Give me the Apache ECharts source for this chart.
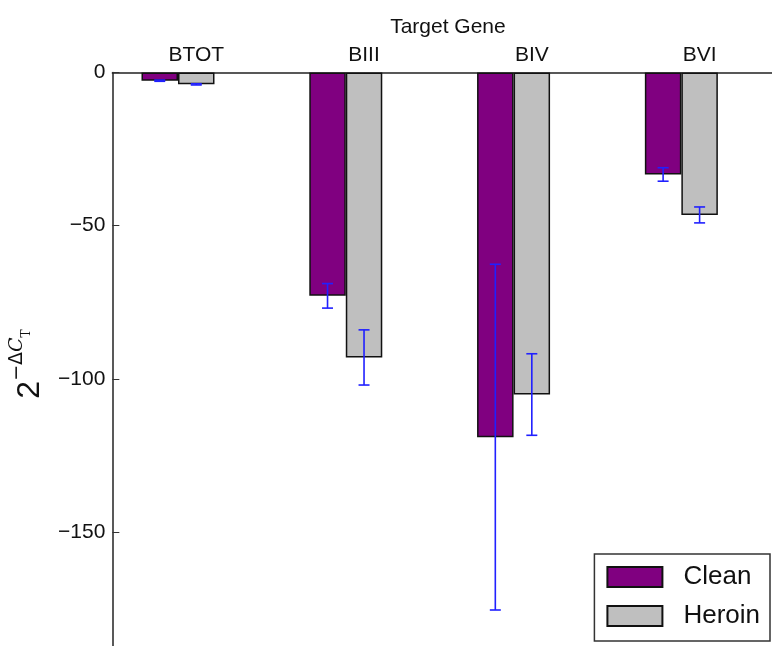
<!DOCTYPE html>
<html>
<head>
<meta charset="utf-8">
<script src="https://cdn.jsdelivr.net/npm/echarts@6/dist/echarts.min.js"></script>
<style>
html,body{margin:0;padding:0;background:#fff;}
#chart{width:772px;height:646px;}
</style>
</head>
<body>
<div id="chart"></div>
<script>
// ---- data ----
var categories = ['BTOT', 'BIII', 'BIV', 'BVI'];
var cleanValues = [-2.7, -72.9, -119.0, -33.3];
var heroinValues = [-3.9, -93.0, -105.1, -46.5];
var cleanErrors = [0.2, 4.0, 56.4, 2.2];
var heroinErrors = [0.2, 9.0, 13.3, 2.6];
var yTicks = [0, -50, -100, -150, -200];
var seriesNames = ['Clean', 'Heroin'];

// ---- style ----
var FONT = "'Liberation Sans', Arial, sans-serif";
var BAR_W = 36.5;
var CLEAN_COLOR = '#800080';
var HEROIN_COLOR = '#bfbfbf';
var ERR_COLOR = '#2020ff';
var AXIS_COLOR = '#222';

function errData(vals, errs) {
  return vals.map(function (v, i) { return [i, v - errs[i], v + errs[i]]; });
}

function makeErrRender(offset) {
  return function (params, api) {
    var idx = api.value(0);
    var lo = api.coord([idx, api.value(1)]);
    var hi = api.coord([idx, api.value(2)]);
    var x = lo[0] + offset;
    var cap = 5.5;
    var st = { stroke: ERR_COLOR, lineWidth: 1.6 };
    return {
      type: 'group',
      children: [
        { type: 'line', shape: { x1: x, y1: lo[1], x2: x, y2: hi[1] }, style: st },
        { type: 'line', shape: { x1: x - cap, y1: lo[1], x2: x + cap, y2: lo[1] }, style: st },
        { type: 'line', shape: { x1: x - cap, y1: hi[1], x2: x + cap, y2: hi[1] }, style: st }
      ]
    };
  };
}

var chart = echarts.init(document.getElementById('chart'), null, { renderer: 'canvas' });
var option = {
  animation: false,
  backgroundColor: '#fff',
  textStyle: { fontFamily: FONT },
  grid: { left: 112.35, right: -11.5, top: 72.4, bottom: -39.4, containLabel: false, outerBoundsMode: 'none' },
  legend: {
    data: seriesNames,
    orient: 'vertical',
    right: 2,
    bottom: 5,
    padding: [10, 10, 12, 12],
    itemWidth: 55,
    itemHeight: 20,
    itemGap: 13,
    icon: 'rect',
    borderColor: '#333',
    borderWidth: 1.5,
    borderRadius: 0,
    backgroundColor: '#fff',
    textStyle: { fontFamily: FONT, fontSize: 26, color: '#111', lineHeight: 26, padding: [0, 0, 0, 16] }
  },
  xAxis: {
    type: 'category',
    position: 'top',
    data: categories,
    boundaryGap: true,
    name: 'Target Gene',
    nameLocation: 'middle',
    nameGap: 35,
    nameTextStyle: { fontFamily: FONT, fontSize: 21, color: '#111' },
    axisLine: { show: true, lineStyle: { color: AXIS_COLOR, width: 1.5 } },
    axisTick: { show: true, inside: true, length: 8, alignWithLabel: true, lineStyle: { color: '#555', width: 1 } },
    axisLabel: { fontFamily: FONT, fontSize: 21, color: '#111', margin: 7 },
    splitLine: { show: false }
  },
  yAxis: {
    type: 'value',
    min: yTicks[yTicks.length - 1],
    max: yTicks[0],
    interval: 50,
    axisLine: { show: true, lineStyle: { color: AXIS_COLOR, width: 1.5 } },
    axisTick: { show: true, inside: true, length: 7, lineStyle: { color: '#333', width: 1 } },
    axisLabel: {
      fontFamily: FONT, fontSize: 21, color: '#111', margin: 7,
      formatter: function (v) { return v < 0 ? '\u2212' + Math.abs(v) : String(v); }
    },
    splitLine: { show: false }
  },
  graphic: [{
    type: 'text',
    x: 27,
    y: 364,
    rotation: Math.PI / 2,
    style: {
      text: '{a|2}{b|\u2212\u0394}{c|C}{d|T}',
      align: 'center',
      verticalAlign: 'middle',
      rich: {
        a: { fontFamily: FONT, fontSize: 32, lineHeight: 38, verticalAlign: 'bottom', fill: '#111' },
        b: { fontFamily: "'DejaVu Sans', sans-serif", fontSize: 19, lineHeight: 22, verticalAlign: 'top', fill: '#111' },
        c: { fontFamily: "'DejaVu Serif', serif", fontStyle: 'italic', fontSize: 19, lineHeight: 22, verticalAlign: 'top', fill: '#111' },
        d: { fontFamily: "'DejaVu Serif', serif", fontSize: 12, lineHeight: 14, verticalAlign: 'middle', fill: '#111' }
      }
    }
  }],
  series: [
    {
      name: 'Clean', type: 'bar', data: cleanValues, barWidth: BAR_W, barGap: '0%',
      itemStyle: { color: CLEAN_COLOR, borderColor: '#111', borderWidth: 1.5 }, z: 2
    },
    {
      name: 'Heroin', type: 'bar', data: heroinValues, barWidth: BAR_W, barGap: '0%',
      itemStyle: { color: HEROIN_COLOR, borderColor: '#111', borderWidth: 1.5 }, z: 2
    },
    {
      name: 'spacer', type: 'bar', data: categories.map(function () { return null; }), barWidth: BAR_W, barGap: '0%',
      itemStyle: { color: 'transparent' }, silent: true
    },
    {
      name: 'Clean err', type: 'custom', data: errData(cleanValues, cleanErrors),
      renderItem: makeErrRender(-BAR_W), z: 5, silent: true
    },
    {
      name: 'Heroin err', type: 'custom', data: errData(heroinValues, heroinErrors),
      renderItem: makeErrRender(0), z: 5, silent: true
    }
  ]
};
chart.setOption(option);
</script>
</body>
</html>
